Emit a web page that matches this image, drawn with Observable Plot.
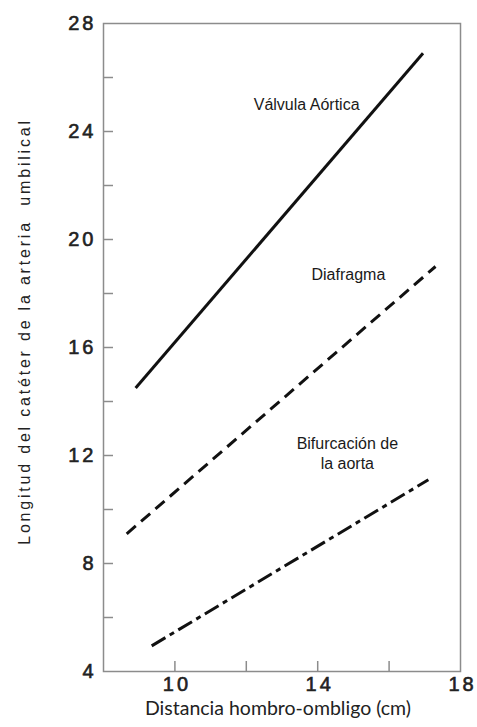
<!DOCTYPE html>
<html><head><meta charset="utf-8">
<script src="https://cdn.jsdelivr.net/npm/d3@7"></script>
<script src="https://cdn.jsdelivr.net/npm/@observablehq/plot@0.6"></script>
<style>
body{margin:0;background:#fff}
#chart svg{display:block}
#chart svg text{white-space:pre}
</style>
</head><body><div id="chart"></div>
<script>
// Series (straight lines, start/end points)
const series = ["Válvula Aórtica", "Diafragma", "Bifurcación de la aorta"];
const xStart = [8.9, 8.65, 9.35];
const xEnd = [16.95, 17.3, 17.1];
const yStart = [14.5, 9.1, 4.95];
const yEnd = [26.9, 19.0, 11.1];
const dashes = [null, "12,7", "16,5,5,5"];

// Line labels
const labelTexts = ["Válvula Aórtica", "Diafragma", "Bifurcación de\nla aorta"];
const labelX = [13.69, 14.86, 14.83];
const labelY = [25.04, 18.74, 12.11];

// Ticks
const xTicks = [10, 12, 14, 16];
const xTickLabels = [10, 14, 18];
const yTicks = [6, 8, 10, 12, 14, 16, 18, 20, 22, 24, 26];
const yTickLabels = [4, 8, 12, 16, 20, 24, 28];

const xTitle = "Distancia hombro-ombligo (cm)";
const yTitle = "Longitud del catéter de la arteria  umbilical";

const axisGray = "#8c8c8c";
const tickFont = "Liberation Sans, Arial, sans-serif";
const titleFont = "Lato, 'Open Sans', sans-serif";

const lineMarks = series.map((s, i) => Plot.line(
  [{x: xStart[i], y: yStart[i]}, {x: xEnd[i], y: yEnd[i]}],
  {x: "x", y: "y", stroke: "#111", strokeWidth: 3, strokeLinecap: "butt",
   strokeDasharray: dashes[i] ?? undefined}
));

const chart = Plot.plot({
  width: 477,
  height: 727,
  marginLeft: 103,
  marginRight: 17,
  marginTop: 23,
  marginBottom: 56,
  x: {domain: [8, 18], axis: null},
  y: {domain: [4, 28], axis: null},
  marks: [
    Plot.frame({stroke: axisGray, strokeWidth: 1.5}),
    Plot.axisY(yTicks, {anchor: "left", tickSize: -10, tickFormat: () => "", label: null, stroke: axisGray, strokeWidth: 1.5}),
    Plot.axisX(xTicks, {anchor: "bottom", tickSize: -10, tickFormat: () => "", label: null, stroke: axisGray, strokeWidth: 1.5}),
    Plot.axisY(yTickLabels, {anchor: "left", tickSize: 0, tickPadding: 7, label: null, fontSize: 20, fontFamily: tickFont, color: "#222"}),
    Plot.axisX(xTickLabels, {anchor: "bottom", tickSize: 0, tickPadding: 5, dx: 2, label: null, fontSize: 20, fontFamily: tickFont, color: "#222"}),
    ...lineMarks,
    Plot.text(labelTexts, {x: (d, i) => labelX[i], y: (d, i) => labelY[i], text: d => d,
      fontSize: 16, fontFamily: tickFont, fill: "#1a1a1a", lineHeight: 1.25}),
    Plot.text([xTitle], {frameAnchor: "bottom", text: d => d, dx: -4, dy: 43,
      fontSize: 19.5, fontFamily: titleFont, fill: "#222"}),
    Plot.text([yTitle], {frameAnchor: "left", textAnchor: "middle", text: d => d, rotate: -90, dx: -79, dy: -16,
      fontSize: 16, fontFamily: tickFont, fill: "#222"})
  ]
});
// letter spacing / weight (not Plot options): wide, heavy tick labels and tracked y title
const sel = d3.select(chart);
sel.selectAll('g[aria-label="y-axis tick label"] text, g[aria-label="x-axis tick label"] text')
  .style("letter-spacing", "3px")
  .style("stroke", "#222")
  .style("stroke-width", "0.6px");
sel.selectAll("text").filter(function() { return this.textContent === yTitle; })
  .style("letter-spacing", "2.8px");
document.getElementById("chart").append(chart);
</script>
</body></html>
